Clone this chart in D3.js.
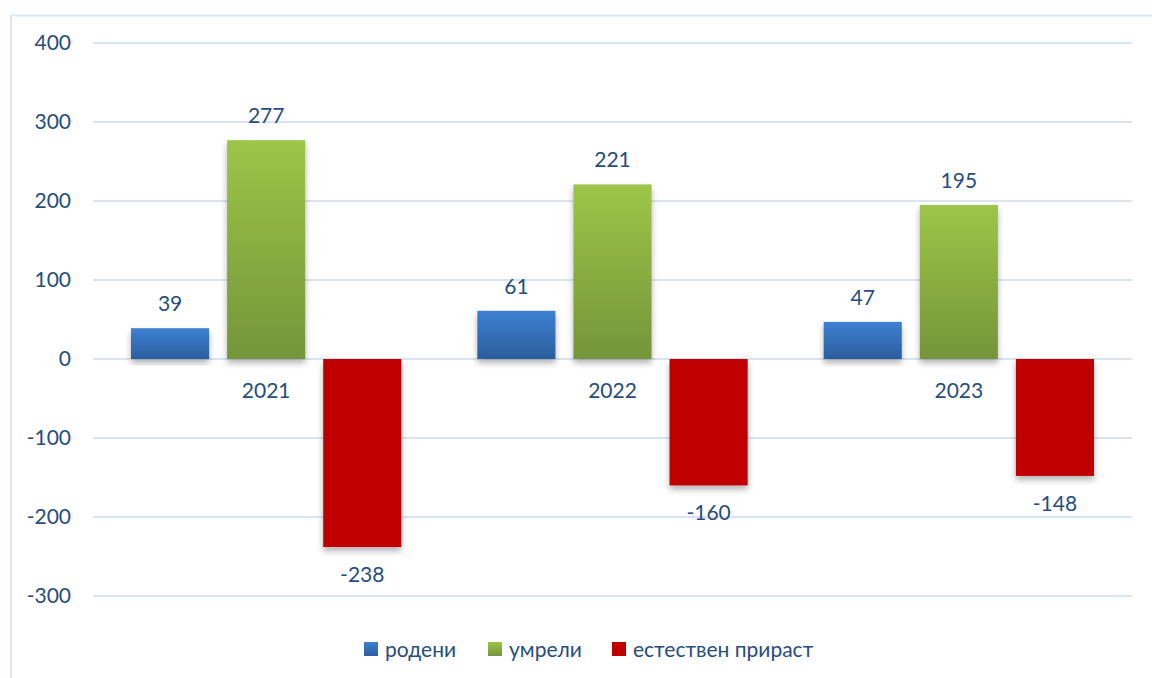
<!DOCTYPE html>
<html>
<head>
<meta charset="utf-8">
<script src="https://cdn.jsdelivr.net/npm/d3@7"></script>
<style>
  body { margin: 0; background: #fff; }
  text { font-family: Lato, "Open Sans", sans-serif; fill: #264d7e; }
</style>
</head>
<body>
<div id="chart"></div>
<script>
// Data
const years = ['2021', '2022', '2023']
const seriesNames = ['родени', 'умрели', 'естествен прираст']
const born = [39, 61, 47]
const died = [277, 221, 195]
const growth = [-238, -160, -148]
const yTicks = [-300, -200, -100, 0, 100, 200, 300, 400]

const dataset = years.map((y, i) => ({ year: y, values: [born[i], died[i], growth[i]] }))

const dimensions = { width: 1152, height: 678, left: 93, right: 1132, top: 43, bottom: 596 }

const svg = d3.select('#chart').append('svg')
  .attr('width', dimensions.width)
  .attr('height', dimensions.height)

const defs = svg.append('defs')
const grads = [['#3d80d2', '#2b5e9e'], ['#9dc548', '#74953a'], ['#c00000', '#c00000']]
grads.forEach((g, i) => {
  const lg = defs.append('linearGradient').attr('id', 'g' + i)
    .attr('x1', 0).attr('y1', 0).attr('x2', 0).attr('y2', 1)
  lg.append('stop').attr('offset', '0%').attr('stop-color', g[0])
  lg.append('stop').attr('offset', '100%').attr('stop-color', g[1])
})
const shadow = defs.append('filter').attr('id', 'shadow')
  .attr('x', '-20%').attr('y', '-20%').attr('width', '140%').attr('height', '140%')
shadow.append('feDropShadow').attr('dx', 0).attr('dy', 4).attr('stdDeviation', 3)
  .attr('flood-color', '#000').attr('flood-opacity', 0.3)

// chart frame
svg.append('path')
  .attr('d', `M11,678 V15.5 H1152`)
  .attr('fill', 'none').attr('stroke', '#dbe7f6').attr('stroke-width', 2)

// Scales
const yScale = d3.scaleLinear().domain([-300, 400]).range([dimensions.bottom, dimensions.top])
const xScale = d3.scaleBand().domain(years).range([dimensions.left, dimensions.right])
const innerScale = d3.scaleBand().domain(d3.range(3)).range([38, xScale.bandwidth() - 38]).paddingInner(0.187)

// grid
svg.append('g').selectAll('line').data(yTicks).join('line')
  .attr('x1', dimensions.left).attr('x2', dimensions.right)
  .attr('y1', d => yScale(d)).attr('y2', d => yScale(d))
  .attr('stroke', '#d9e5f4').attr('stroke-width', 2)

// y axis labels
const yAxis = d3.axisLeft(yScale).tickValues(yTicks).tickSize(0).tickPadding(0)
  .tickFormat(d => String(d))
const yAxisGroup = svg.append('g')
  .attr('transform', 'translate(71,0)')
  .call(yAxis)
yAxisGroup.select('.domain').remove()
yAxisGroup.selectAll('text').style('font-size', '21px').attr('fill', '#264d7e')
  .style('font-family', 'Lato, "Open Sans", sans-serif')

// bars
const groups = svg.append('g').selectAll('g').data(dataset).join('g')
  .attr('transform', d => `translate(${xScale(d.year)},0)`)

groups.selectAll('rect').data(d => d.values).join('rect')
  .attr('x', (d, i) => innerScale(i))
  .attr('y', d => yScale(Math.max(0, d)))
  .attr('width', innerScale.bandwidth())
  .attr('height', d => Math.abs(yScale(d) - yScale(0)))
  .attr('fill', (d, i) => `url(#g${i})`)
  .attr('filter', 'url(#shadow)')

groups.selectAll('text.val').data(d => d.values).join('text')
  .attr('class', 'val')
  .attr('x', (d, i) => innerScale(i) + innerScale.bandwidth() / 2)
  .attr('y', d => d >= 0 ? yScale(d) - 17 : yScale(d) + 35)
  .attr('text-anchor', 'middle')
  .style('font-size', '21px')
  .text(d => d)

// category labels
groups.append('text')
  .attr('x', xScale.bandwidth() / 2)
  .attr('y', yScale(0) + 39)
  .attr('text-anchor', 'middle')
  .style('font-size', '21px')
  .text(d => d.year)

// legend
const legendX = [364, 488, 612]
const legend = svg.append('g').selectAll('g').data(seriesNames).join('g')
  .attr('transform', (d, i) => `translate(${legendX[i]},642)`)
legend.append('rect').attr('width', 14).attr('height', 14)
  .attr('fill', (d, i) => `url(#g${i})`)
legend.append('text').attr('x', 21).attr('y', 14.5)
  .style('font-size', '21px')
  .text(d => d)
</script>
</body>
</html>
